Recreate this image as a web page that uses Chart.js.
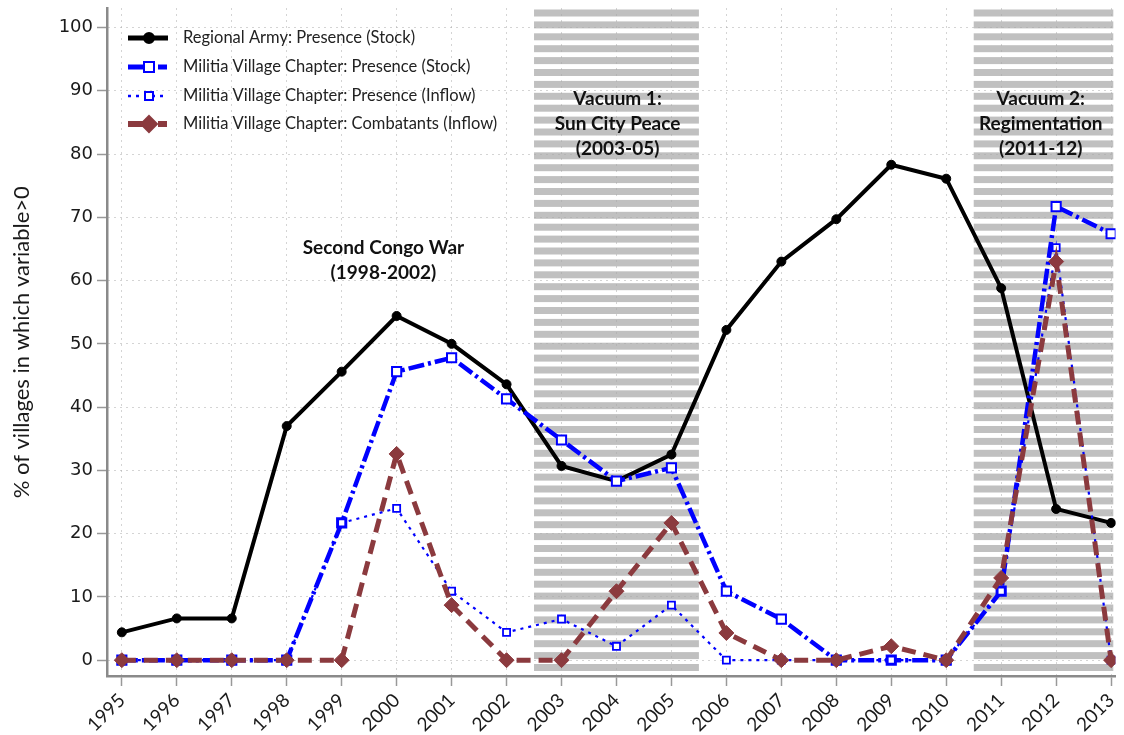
<!DOCTYPE html>
<html>
<head>
<meta charset="utf-8">
<script src="https://cdn.jsdelivr.net/npm/chart.js@4/dist/chart.umd.min.js"></script>
<style>
  html, body { margin: 0; padding: 0; background: #fff; }
</style>
</head>
<body>
<canvas id="chart" width="1124" height="735"></canvas>
<script>
const years = [1995, 1996, 1997, 1998, 1999, 2000, 2001, 2002, 2003, 2004, 2005, 2006, 2007, 2008, 2009, 2010, 2011, 2012, 2013];
const armyStock = [4.4, 6.6, 6.6, 37.0, 45.6, 54.4, 50.0, 43.6, 30.7, 28.3, 32.5, 52.2, 63.0, 69.7, 78.3, 76.1, 58.8, 23.9, 21.7];
const militiaStock = [0, 0, 0, 0, 21.7, 45.6, 47.8, 41.3, 34.8, 28.3, 30.4, 10.9, 6.5, 0, 0, 0, 10.9, 71.7, 67.4];
const militiaInflow = [0, 0, 0, 0, 21.7, 24.0, 10.9, 4.4, 6.5, 2.2, 8.7, 0, 0, 0, 0, 0, 10.9, 65.2, 0];
const combatantsInflow = [0, 0, 0, 0, 0, 32.6, 8.7, 0, 0, 10.9, 21.7, 4.3, 0, 0, 2.2, 0, 13.0, 63.0, 0];
const yTicks = [0, 10, 20, 30, 40, 50, 60, 70, 80, 90, 100];
const seriesNames = [
  "Regional Army: Presence (Stock)",
  "Militia Village Chapter: Presence (Stock)",
  "Militia Village Chapter: Presence (Inflow)",
  "Militia Village Chapter: Combatants (Inflow)"
];
const shadedPeriods = [[2002.5, 2005.5], [2010.5, 2013.04]];
const notes = [
  {x: 1999.76, y: 65.1, lines: ["Second Congo War", "(1998-2002)"]},
  {x: 2004.02, y: 88.7, lines: ["Vacuum 1:", "Sun City Peace", "(2003-05)"]},
  {x: 2011.72, y: 88.7, lines: ["Vacuum 2:", "Regimentation", "(2011-12)"]}
];

const BLUE = "#0000ff";
const BROWN = "#8b3a3e";
const toXY = vals => vals.map((v, i) => ({x: years[i], y: v}));

// legend samples: colour, width, dash, marker
const legendStyle = [
  {color: "#000", width: 5, dash: [], marker: "circle", r: 5, fill: "#000"},
  {color: BLUE, width: 5, dash: [18, 12, 9, 100], marker: "rect", r: 5, fill: "#fff"},
  {color: BLUE, width: 2.5, dash: [3, 5], marker: "rect", r: 4, fill: "#fff"},
  {color: BROWN, width: 6, dash: [18, 12, 9, 100], marker: "diamond", r: 8, fill: BROWN}
];

const decor = {
  id: "decor",
  beforeDraw(chart) {
    const {ctx, chartArea: a, scales: {x}} = chart;
    ctx.save();
    ctx.fillStyle = "#c0c0c0";
    shadedPeriods.forEach(([from, to]) => {
      const x0 = x.getPixelForValue(from);
      const x1 = x.getPixelForValue(to);
      for (let yy = a.top + 1; yy < a.bottom - 3; yy += 11.9) {
        ctx.fillRect(x0, yy, x1 - x0, Math.min(7, a.bottom - 3 - yy));
      }
    });
    ctx.restore();
  },
  afterDraw(chart) {
    const {ctx, scales: {x, y}} = chart;
    ctx.save();
    // legend
    const rows = [38, 67, 96, 124];
    legendStyle.forEach((s, i) => {
      const ly = rows[i];
      ctx.strokeStyle = s.color;
      ctx.lineWidth = s.width;
      ctx.setLineDash(s.dash);
      ctx.beginPath();
      ctx.moveTo(128, ly);
      ctx.lineTo(168, ly);
      ctx.stroke();
      ctx.setLineDash([]);
      ctx.fillStyle = s.fill;
      ctx.lineWidth = 2;
      ctx.beginPath();
      if (s.marker === "circle") {
        ctx.arc(149, ly, s.r, 0, Math.PI * 2);
      } else if (s.marker === "rect") {
        ctx.rect(149 - s.r, ly - s.r, s.r * 2, s.r * 2);
      } else {
        ctx.moveTo(149, ly - s.r);
        ctx.lineTo(149 + s.r, ly);
        ctx.lineTo(149, ly + s.r);
        ctx.lineTo(149 - s.r, ly);
        ctx.closePath();
      }
      ctx.fill();
      ctx.stroke();
      ctx.fillStyle = "#222";
      ctx.font = "16.5px Lato";
      ctx.textAlign = "left";
      ctx.textBaseline = "middle";
      ctx.fillText(seriesNames[i], 183, ly);
    });
    // period notes
    ctx.font = "bold 19px Lato";
    ctx.textAlign = "center";
    ctx.textBaseline = "middle";
    ctx.fillStyle = "#111";
    notes.forEach(n => {
      const cx = x.getPixelForValue(n.x);
      const cy = y.getPixelForValue(n.y);
      n.lines.forEach((t, k) => ctx.fillText(t, cx, cy + k * 25));
    });
    ctx.restore();
  }
};

new Chart(document.getElementById("chart"), {
  type: "line",
  data: {
    datasets: [
      {
        label: seriesNames[0], data: toXY(armyStock), order: 3,
        borderColor: "#000", borderWidth: 4,
        pointStyle: "circle", pointRadius: 4.5,
        pointBackgroundColor: "#000", pointBorderColor: "#000", pointBorderWidth: 1
      },
      {
        label: seriesNames[1], data: toXY(militiaStock), order: 2,
        borderColor: BLUE, borderWidth: 4.5, borderDash: [16, 4, 3, 4],
        pointStyle: "rect", pointRadius: 6.5,
        pointBackgroundColor: "#fff", pointBorderColor: BLUE, pointBorderWidth: 2
      },
      {
        label: seriesNames[2], data: toXY(militiaInflow), order: 1,
        borderColor: BLUE, borderWidth: 2.2, borderDash: [3, 5],
        pointStyle: "rect", pointRadius: 5,
        pointBackgroundColor: "#fff", pointBorderColor: BLUE, pointBorderWidth: 1.8
      },
      {
        label: seriesNames[3], data: toXY(combatantsInflow), order: 0,
        borderColor: BROWN, borderWidth: 5, borderDash: [14, 8],
        pointStyle: "rectRot", pointRadius: 7.5,
        pointBackgroundColor: BROWN, pointBorderColor: BROWN, pointBorderWidth: 1
      }
    ]
  },
  options: {
    responsive: false,
    animation: false,
    layout: {padding: {top: 3, right: -1, left: 0, bottom: 0}},
    plugins: {legend: {display: false}, tooltip: {enabled: false}},
    elements: {line: {tension: 0, fill: false}},
    scales: {
      x: {
        type: "linear", min: 1994.73, max: 2013.08,
        afterBuildTicks: s => { s.ticks = years.map(v => ({value: v})); },
        afterFit: s => { s.height = 59; s.paddingLeft = 0; s.paddingRight = 0; },
        ticks: {
          callback: v => String(v), autoSkip: false,
          maxRotation: 45, minRotation: 45,
          font: {family: "Lato", size: 19}, color: "#1a1a1a", padding: 3
        },
        grid: {color: "#a8a8a8", lineWidth: 1, tickLength: 10, tickColor: "#999", tickWidth: 1.5},
        border: {display: true, color: "#8a8a8a", width: 2.5, dash: [1, 5]}
      },
      y: {
        min: -2.5, max: 103,
        afterBuildTicks: s => { s.ticks = yTicks.map(v => ({value: v})); },
        afterFit: s => { s.width = 107; s.paddingTop = 0; s.paddingBottom = 0; },
        ticks: {font: {family: "DejaVu Sans", size: 18}, color: "#1a1a1a", padding: 4},
        grid: {color: "#a8a8a8", lineWidth: 1, tickLength: 10, tickColor: "#999", tickWidth: 1.5},
        border: {display: true, color: "#8a8a8a", width: 2.5, dash: [1, 5]},
        title: {
          display: true, text: "% of villages in which variable>0",
          font: {family: "Lato", size: 22}, color: "#1a1a1a", padding: {top: 9, bottom: 0}
        }
      }
    }
  },
  plugins: [decor]
});
</script>
</body>
</html>
